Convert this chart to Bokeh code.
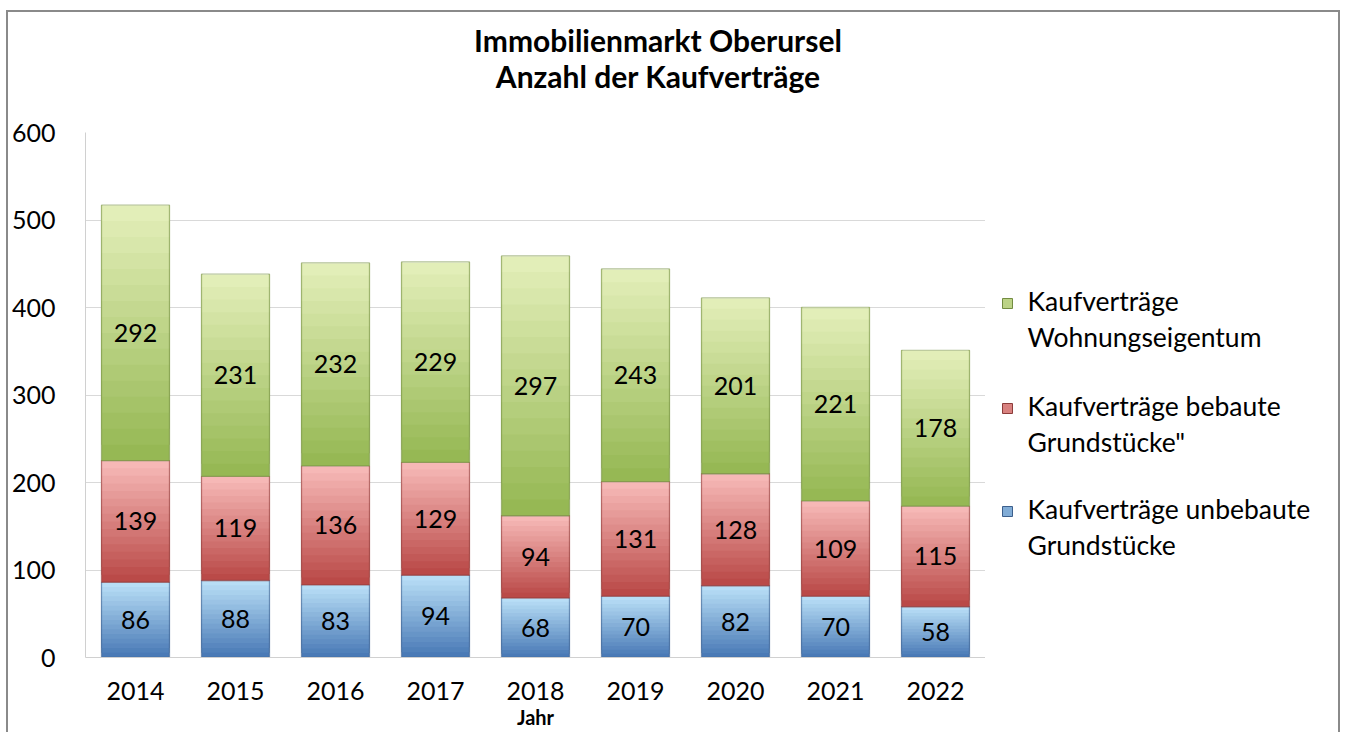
from bokeh.plotting import figure
from bokeh.models import Range1d, LabelSet, ColumnDataSource, Div
from bokeh.layouts import column, row
from bokeh.embed import file_html
from bokeh.resources import INLINE
from bokeh.core.properties import value

years = ["2014", "2015", "2016", "2017", "2018", "2019", "2020", "2021", "2022"]
unbebaute = [86, 88, 83, 94, 68, 70, 82, 70, 58]
bebaute = [139, 119, 136, 129, 94, 131, 128, 109, 115]
wohnung = [292, 231, 232, 229, 297, 243, 201, 221, 178]
series_labels = [
    "Kaufverträge\nWohnungseigentum",
    "Kaufverträge bebaute\nGrundstücke\"",
    "Kaufverträge unbebaute\nGrundstücke",
]
title_lines = ["Immobilienmarkt Oberursel", "Anzahl der Kaufverträge"]
y_ticks = [0, 100, 200, 300, 400, 500, 600]

FONT = "Lato"
N = 16  # gradient slices per segment
BORDER = "2px solid #8a8a8a"

# (bottom colour, top colour, edge colour)
styles = {
    "unbebaute": ((74, 122, 182), (184, 222, 246), (60, 95, 140)),
    "bebaute": ((186, 74, 72), (246, 184, 182), (140, 60, 58)),
    "wohnung": ((150, 184, 84), (226, 238, 184), (115, 140, 65)),
}


def lerp(c0, c1, t):
    return "#%02x%02x%02x" % tuple(int(round(a + (b - a) * t)) for a, b in zip(c0, c1))


# ---------------- title ----------------
title_div = Div(
    text=(
        f"<div style=\"font-family:{FONT};font-weight:bold;font-size:30px;"
        f"line-height:36px;text-align:center;padding-top:10px;"
        f"color:black;width:1300px\">{title_lines[0]}<br>{title_lines[1]}</div>"
    ),
    width=1330,
    height=100,
    margin=0,
)

# ---------------- main plot ----------------
p = figure(
    x_range=years,
    y_range=Range1d(0, 600),
    width=977,
    height=620,
    min_border_left=77,
    min_border_right=0,
    min_border_top=20,
    min_border_bottom=75,
    output_backend="svg",
    toolbar_location=None,
    margin=0,
)
p.title.visible = False
p.outline_line_color = None
p.background_fill_color = "white"
p.border_fill_color = "white"
p.xgrid.grid_line_color = None
p.ygrid.grid_line_color = "#d9d9d9"
p.ygrid.grid_line_width = 1.2
p.yaxis.ticker = y_ticks

for ax in (p.xaxis, p.yaxis):
    ax.axis_line_color = "#d0d0d0"
    ax.major_tick_line_color = None
    ax.minor_tick_line_color = None
    ax.major_label_text_font = FONT
    ax.major_label_text_font_size = "25px"
    ax.major_label_text_color = "black"
p.yaxis.major_label_standoff = 24
p.xaxis.major_label_standoff = 18
p.xaxis.axis_label = "Jahr"
p.xaxis.axis_label_text_font = FONT
p.xaxis.axis_label_text_font_style = "bold"
p.xaxis.axis_label_text_font_size = "20px"
p.xaxis.axis_label_text_color = "black"
p.xaxis.axis_label_standoff = 2


def draw_segment(vals, bases, style):
    c_bot, c_top, c_edge = styles[style]
    tops_full = [b + v for v, b in zip(vals, bases)]
    xs, tops, bots, cols = [], [], [], []
    for k in range(N):
        t = k / (N - 1)
        for yr, v, b, tf in zip(years, vals, bases, tops_full):
            xs.append(yr)
            bots.append(b + v * k / N)
            tops.append(tf)
            cols.append(lerp(c_bot, c_top, t))
    src = ColumnDataSource(dict(x=xs, top=tops, bottom=bots, color=cols))
    p.vbar(x="x", top="top", bottom="bottom", width=0.68, source=src,
           fill_color="color", line_color=None)
    p.vbar(x=years, top=tops_full, bottom=bases, width=0.68,
           fill_color=None, line_color=lerp(c_edge, c_edge, 0), line_alpha=0.55, line_width=1.3)
    p.vbar(x=years, top=tops_full, bottom=[t - 0.8 for t in tops_full], width=0.66,
           fill_color="white", fill_alpha=0.6, line_color=None)
    mids = [b + v / 2 for v, b in zip(vals, bases)]
    lsrc = ColumnDataSource(dict(x=years, y=mids, t=[str(v) for v in vals]))
    p.add_layout(LabelSet(x="x", y="y", text="t", source=lsrc,
                          text_align="center", text_baseline="middle",
                          text_font=value(FONT), text_font_size="25px", text_color="black"))
    return tops_full


zero = [0] * len(years)
top_u = draw_segment(unbebaute, zero, "unbebaute")
top_b = draw_segment(bebaute, top_u, "bebaute")
top_w = draw_segment(wohnung, top_b, "wohnung")

# ---------------- legend panel (pixel coordinates from frame top, y downwards) ----------------
LW, FH = 353, 525
lg = figure(
    width=LW, height=620,
    x_range=Range1d(0, LW), y_range=Range1d(FH, 0),
    min_border_left=0, min_border_right=0, min_border_top=20, min_border_bottom=75,
    output_backend="svg", toolbar_location=None, margin=0,
)
lg.title.visible = False
lg.axis.visible = False
lg.grid.visible = False
lg.outline_line_color = None
lg.background_fill_color = "white"
lg.border_fill_color = "white"

legend_order = ["wohnung", "bebaute", "unbebaute"]
first_line_y = [168, 273, 376]     # layout: centre of first text line of each entry
square_y = [171, 276, 379]
LINE_H = 36
sq_fill = [lerp(styles[s][0], styles[s][1], 0.5) for s in legend_order]
sq_edge = [lerp(styles[s][2], styles[s][2], 0) for s in legend_order]
lg.scatter(x=[22] * 3, y=square_y, marker="square", size=10,
           fill_color=sq_fill, line_color=sq_edge, line_width=1)

tx, ty, tt = [], [], []
for lab, y0 in zip(series_labels, first_line_y):
    for i, line in enumerate(lab.split("\n")):
        tx.append(42)
        ty.append(y0 + i * LINE_H)
        tt.append(line)
lg.text(x=tx, y=ty, text=tt, text_font=value(FONT), text_font_size="26.5px",
        text_baseline="middle", text_align="left", text_color="black")

layout = column(
    title_div,
    row(p, lg, margin=0, spacing=0),
    margin=0, spacing=0,
)
layout.styles = {
    "margin-left": "6px",
    "margin-top": "10px",
    "border-top": BORDER,
    "border-left": BORDER,
    "border-right": BORDER,
    "background": "white",
}

open("out.html", "w").write(file_html(layout, INLINE))
